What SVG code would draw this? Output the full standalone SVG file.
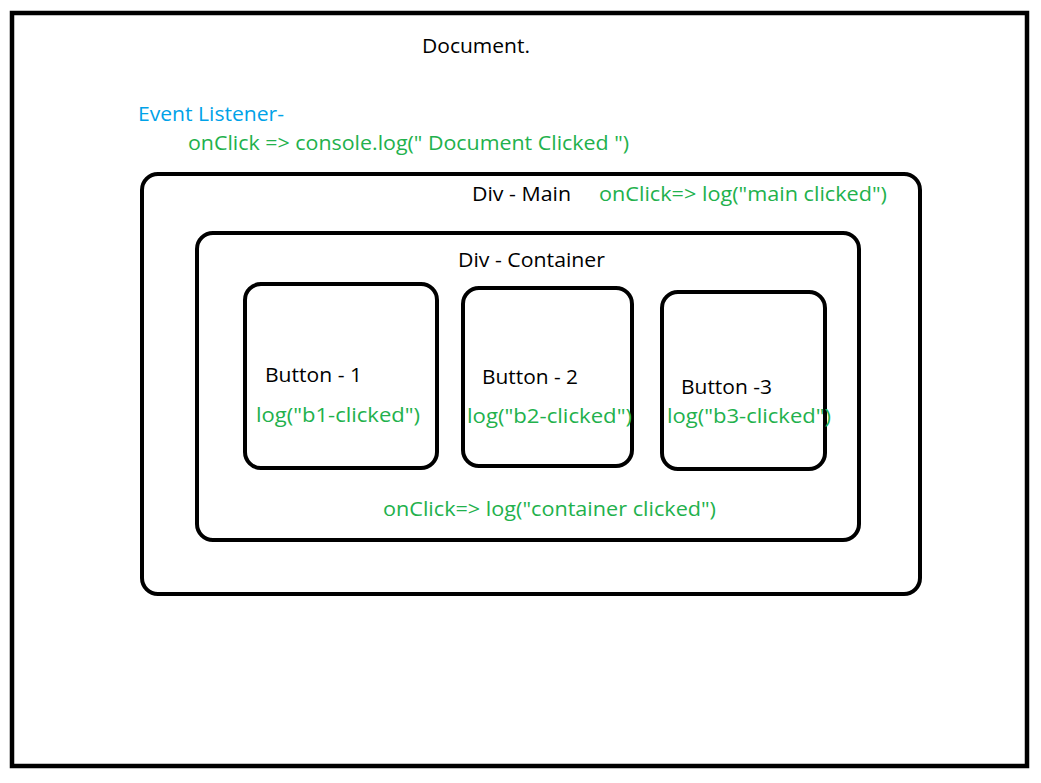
<svg xmlns="http://www.w3.org/2000/svg" width="1041" height="783" viewBox="0 0 1041 783">
<style>
.box{fill:none;stroke:#000;stroke-width:4}
.t{font-family:"Open Sans","Liberation Sans",sans-serif;font-size:20px;fill:#000}
.g{fill:#22b14c}
.b{fill:#00a2e8}
</style>
<rect x="0" y="0" width="1041" height="783" fill="#fff"/>
<g id="document">
<rect class="box" x="12" y="13" width="1015" height="753" style="stroke-width:4.5"/>
<text class="t" x="422" y="53" textLength="108" lengthAdjust="spacingAndGlyphs">Document.</text>
<text class="t b" x="138" y="121" textLength="146" lengthAdjust="spacingAndGlyphs">Event Listener-</text>
<text class="t g" x="188" y="150" textLength="441" lengthAdjust="spacingAndGlyphs">onClick =&gt; console.log(" Document Clicked ")</text>
</g>
<g id="div-main">
<rect class="box" x="142" y="174" width="778" height="420" rx="16"/>
<text class="t" x="472" y="201" textLength="99" lengthAdjust="spacingAndGlyphs">Div - Main</text>
<text class="t g" x="599" y="201" textLength="288" lengthAdjust="spacingAndGlyphs">onClick=&gt; log("main clicked")</text>
</g>
<g id="div-container">
<rect class="box" x="197" y="233" width="662" height="307" rx="16"/>
<text class="t" x="458" y="267" textLength="147" lengthAdjust="spacingAndGlyphs">Div - Container</text>
<text class="t g" x="383" y="516" textLength="333" lengthAdjust="spacingAndGlyphs">onClick=&gt; log("container clicked")</text>
</g>
<g id="button-1">
<rect class="box" x="245" y="284" width="192" height="184" rx="16"/>
<text class="t" x="265" y="382" textLength="97" lengthAdjust="spacingAndGlyphs">Button - 1</text>
<text class="t g" x="256" y="422" textLength="164" lengthAdjust="spacingAndGlyphs">log("b1-clicked")</text>
</g>
<g id="button-2">
<rect class="box" x="463" y="288" width="169" height="178" rx="16"/>
<text class="t" x="482" y="384" textLength="96" lengthAdjust="spacingAndGlyphs">Button - 2</text>
<text class="t g" x="467" y="423" textLength="165" lengthAdjust="spacingAndGlyphs">log("b2-clicked")</text>
</g>
<g id="button-3">
<rect class="box" x="662" y="292" width="163" height="177" rx="16"/>
<text class="t" x="681" y="394" textLength="91" lengthAdjust="spacingAndGlyphs">Button -3</text>
<text class="t g" x="667" y="423" textLength="164" lengthAdjust="spacingAndGlyphs">log("b3-clicked")</text>
</g>
<g id="connectors"></g>
</svg>
